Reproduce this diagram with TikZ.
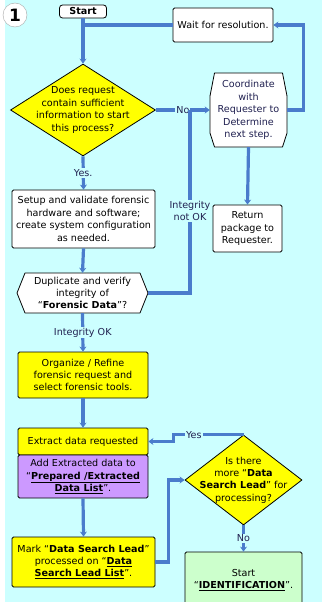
\documentclass[tikz,border=0pt]{standalone}
\usepackage{fontspec}
\setmainfont{DejaVu Sans}
\usetikzlibrary{shapes.geometric,arrows.meta}

\definecolor{bgcyan}{HTML}{CCFFFF}
\definecolor{flowblue}{HTML}{4A7CCC}
\definecolor{boxyellow}{HTML}{FFFF00}
\definecolor{boxpurple}{HTML}{CC99FF}
\definecolor{boxgreen}{HTML}{CCFFCC}
\definecolor{lbltext}{HTML}{202050}

\newcommand{\boldul}[1]{\underline{\textbf{#1}}}

\tikzset{
    every node/.style={font=\fontsize{9.6}{12.4}\selectfont, align=center},
    procbox/.style={draw, rectangle, rounded corners=1.5pt, fill=white, inner sep=1pt, line width=0.8pt},
    prepshape/.style={draw, fill=white, line width=0.8pt, line join=round},
    decbox/.style={draw, diamond, fill=boxyellow, inner sep=0pt, line width=0.8pt},
    lbl/.style={fill=bgcyan, inner sep=1pt, text=lbltext},
    flowline/.style={draw=flowblue, line width=3.2pt},
    flowarrow/.style={flowline, -{Stealth[length=5pt,width=7pt]}}
}

\begin{document}
\begin{tikzpicture}[x=1pt, y=-1pt]
    % background
    \fill [white] (0,0) rectangle (322,602);
    \fill [bgcyan] (5,0) rectangle (322,602);
    \useasboundingbox (0,0) rectangle (322,602);

    % preparation shapes, drawn under their nodes
    \draw [prepshape, shift={(248.5,110)}] (-34,-37) -- (34,-37) -- (38.5,-14) -- (38.5,23)
        -- (34,37) -- (-34,37) -- (-38.5,23) -- (-38.5,-14) -- cycle;
    \draw [prepshape, shift={(82.5,293)}] (-57.5,-20) -- (57.5,-20) -- (65.5,0)
        -- (57.5,20) -- (-57.5,20) -- (-65.5,0) -- cycle;

    % boxes
    \node [draw=gray!70, circle, fill=white, minimum size=24pt, inner sep=0pt,
           font=\fontsize{17}{17}\selectfont\bfseries] (num) at (15,15) {1};
    \node [procbox, rounded corners=3pt, minimum width=47pt, minimum height=13pt,
           font=\fontsize{9.6}{12.4}\selectfont\bfseries] (start) at (83,11.5) {Start};
    \node [procbox, minimum width=100pt, minimum height=34pt] (wait) at (223,25) {Wait for resolution.};
    \node [decbox, minimum width=145pt, minimum height=92pt] (dec1) at (83,110) {};
    \node at (dec1.center) {Does request\\contain sufficient\\information to start\\this process?};
    \node [minimum width=77pt, minimum height=74pt, inner sep=0pt, text=lbltext] (coord) at (248.5,110)
          {Coordinate\\with\\Requester to\\Determine\\next step.};
    \node [procbox, minimum width=69pt, minimum height=47pt] (ret) at (247.5,228.5)
          {Return\\package to\\Requester.};
    \node [procbox, minimum width=143pt, minimum height=58pt] (setup) at (83.5,219)
          {Setup and validate forensic\\hardware and software;\\create system configuration\\as needed.};
    \node [minimum width=131pt, minimum height=40pt, inner sep=0pt] (dup) at (82.5,293)
          {Duplicate and verify\\integrity of\\``\textbf{Forensic Data}''?};
    \node [procbox, fill=boxyellow, minimum width=130pt, minimum height=46pt] (organize) at (83,375)
          {Organize / Refine\\forensic request and\\select forensic tools.};
    \node [procbox, fill=boxyellow, minimum width=130pt, minimum height=27pt] (extract) at (83,441.5)
          {Extract data requested};
    \node [procbox, fill=boxpurple, minimum width=130pt, minimum height=43pt] (addext) at (83,476.5)
          {Add Extracted data to\\``\boldul{Prepared /Extracted}\\\boldul{Data List}''.};
    \node [procbox, fill=boxyellow, minimum width=143pt, minimum height=50pt] (mark) at (83.5,562)
          {Mark ``\textbf{Data Search Lead}''\\processed on ``\boldul{Data}\\\boldul{Search Lead List}''.};
    \node [decbox, minimum width=117pt, minimum height=90pt] (dec2) at (243.5,480) {};
    \node at (dec2.center) {Is there\\more ``\textbf{Data}\\\textbf{Search Lead}'' for\\processing?};
    \node [procbox, fill=boxgreen, minimum width=117pt, minimum height=56pt] (ident) at (243.5,580)
          {Start\\``\boldul{IDENTIFICATION}''.};

    % connectors
    \coordinate (jno) at (190,110);
    \draw [flowline] (start.south) -- (start.south |- wait.west);
    \draw [flowarrow] (wait.west) -| (dec1.north);
    \draw [flowarrow] (coord.east) -- ++(16,0) |- (wait.east);
    \draw [flowarrow] (dec1.east) -- node[lbl] {No} (coord.west);
    \draw [flowline] (dup.east) -| node[lbl, pos=0.725] {Integrity\\not OK} (jno);
    \draw [flowarrow] (coord.south) -- (ret.north);
    \draw [flowarrow] (dec1.south) -- node[lbl] {Yes.} (setup.north);
    \draw [flowarrow] (setup.south) -- (dup.north);
    \draw [flowarrow] (dup.south) -- node[lbl] {Integrity OK} (organize.north);
    \draw [flowarrow] (organize.south) -- (extract.north);
    \draw [flowarrow] (addext.south) -- (mark.north);
    \draw [flowarrow] (mark.east) -- ++(13,0) |- (dec2.west);
    \draw [flowarrow] (dec2.north) -- node[lbl, pos=0.71] {Yes} ++(-70,0) |- (extract.east);
    \draw [flowarrow] (dec2.south) -- node[lbl] {No} (ident.north);
\end{tikzpicture}
\end{document}
